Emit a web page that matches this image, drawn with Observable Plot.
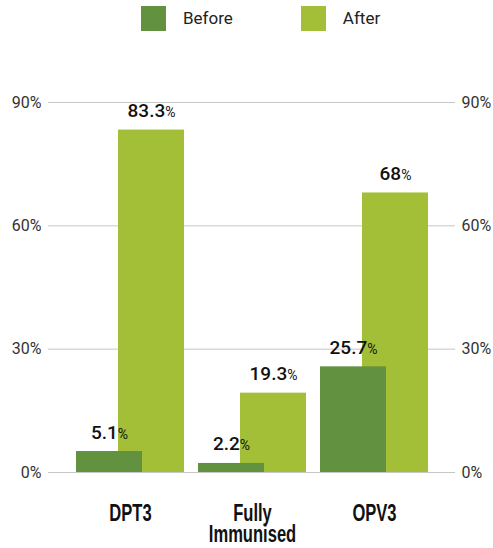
<!DOCTYPE html>
<html>
<head>
<meta charset="utf-8">
<script src="https://cdn.jsdelivr.net/npm/d3@7"></script>
<script src="https://cdn.jsdelivr.net/npm/@observablehq/plot@0.6"></script>
<style>
  html, body { margin: 0; padding: 0; background: #fff; }
  #wrap { position: relative; width: 493px; height: 548px; }
  #legend { position: absolute; top: 6px; left: 141px; display: flex; align-items: center;
            font-family: Roboto, sans-serif; font-size: 17px; color: #222; }
  #legend .sw { width: 25px; height: 25px; margin-right: 17px; }
  #legend .lb { margin-right: 68px; line-height: 25px; }
  #chart { position: absolute; top: 0; left: 0; }
</style>
</head>
<body>
<div id="wrap">
  <div id="chart"></div>
  <div id="legend"></div>
</div>
<script>
const categories = ["DPT3", "Fully Immunised", "OPV3"];
const before = [5.1, 2.2, 25.7];
const after = [83.3, 19.3, 68];
const seriesNames = ["Before", "After"];
const seriesColors = ["#629140", "#a3bf38"];
const yTicks = [0, 30, 60, 90];

const beforeData = categories.map((c, i) => ({category: c, value: before[i]}));
const afterData = categories.map((c, i) => ({category: c, value: after[i]}));

// legend
const legend = document.getElementById("legend");
seriesNames.forEach((n, i) => {
  const sw = document.createElement("div");
  sw.className = "sw";
  sw.style.background = seriesColors[i];
  const lb = document.createElement("div");
  lb.className = "lb";
  lb.textContent = n;
  legend.appendChild(sw);
  legend.appendChild(lb);
});

const labelFont = {fontSize: 19, fontWeight: 500, fill: "#111", lineAnchor: "bottom", dy: -13, className: "vlabel"};

const plot = Plot.plot({
  width: 493,
  height: 548,
  marginLeft: 48,
  marginRight: 38,
  marginTop: 102,
  marginBottom: 76,
  style: {fontFamily: "Roboto, sans-serif", background: "#fff", overflow: "visible"},
  x: {type: "band", domain: categories, paddingInner: 0, paddingOuter: 0.16},
  y: {domain: [0, 90], ticks: yTicks},
  marks: [
    Plot.ruleY(yTicks, {stroke: "#c6c6c6", strokeWidth: 1}),
    Plot.barY(afterData, {x: "category", y: "value", fill: seriesColors[1], insetLeft: 49, insetRight: 7}),
    Plot.barY(beforeData, {x: "category", y: "value", fill: seriesColors[0], insetLeft: 7, insetRight: 49}),
    Plot.text(beforeData, {x: "category", y: "value", text: d => String(d.value), dx: -21, ...labelFont}),
    Plot.text(afterData, {x: "category", y: "value", text: d => String(d.value), dx: 21, ...labelFont}),
    Plot.axisY({anchor: "left", ticks: yTicks, tickFormat: d => d + "%", tickSize: 0, tickPadding: 7,
                fontSize: 16, fill: "#333", label: null}),
    Plot.axisY({anchor: "right", ticks: yTicks, tickFormat: d => d + "%", tickSize: 0, tickPadding: 6,
                fontSize: 16, fill: "#333", label: null}),
    Plot.axisX({tickSize: 0, tickPadding: 33, tickFormat: d => d.replace(" ", "\n"), className: "xlab",
                fontSize: 24, fontWeight: "bold", fill: "#111", lineHeight: 0.9, label: null,
                fontFamily: "'Liberation Sans', Arial, sans-serif"})
  ]
});

document.getElementById("chart").appendChild(plot);

// add the smaller "%" to value labels
d3.select(plot).selectAll(".vlabel text").each(function() {
  const t = this.textContent;
  this.textContent = t;
  d3.select(this).append("tspan").attr("font-size", 14).attr("font-weight", 400).text("%");
});

// condense the category labels horizontally
const squeeze = 0.69;
d3.select(plot).selectAll(".xlab text").each(function() {
  const tr = this.getAttribute("transform");
  if (tr) {
    this.setAttribute("transform", tr + ` scale(${squeeze},1)`);
  } else {
    const parts = this.querySelectorAll("tspan");
    const els = parts.length ? Array.from(parts) : [this];
    els.forEach(el => {
      const L = el.getComputedTextLength();
      el.setAttribute("textLength", L * squeeze);
      el.setAttribute("lengthAdjust", "spacingAndGlyphs");
    });
  }
});
</script>
</body>
</html>
